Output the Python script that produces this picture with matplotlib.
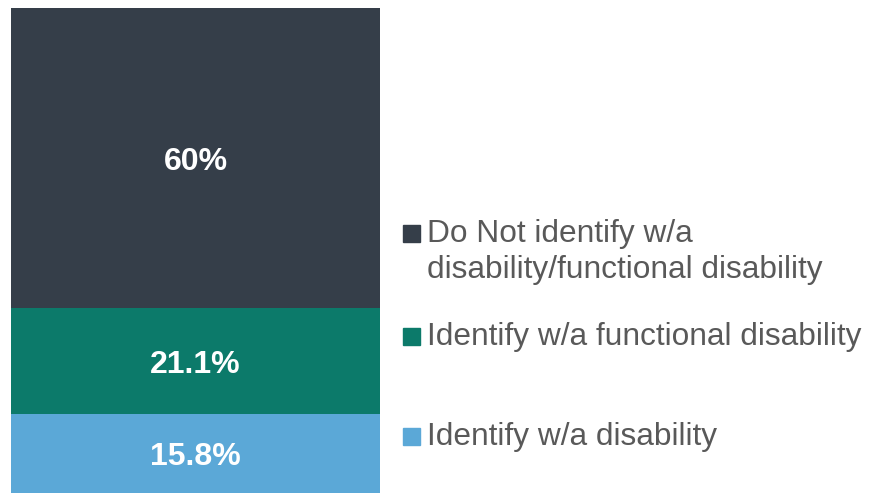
import matplotlib
matplotlib.use("Agg")
from matplotlib import pyplot as plt
from matplotlib.patches import Rectangle

plt.rcParams['font.family'] = ['Liberation Sans', 'DejaVu Sans']

# data, bottom to top
categories = ["Identify w/a disability",
              "Identify w/a functional disability",
              "Do Not identify w/a\ndisability/functional disability"]
values = [15.8, 21.1, 60.0]
labels = ["15.8%", "21.1%", "60%"]
colors = ["#5BA8D7", "#0C7A6A", "#353E49"]

W, H = 879, 493
fig = plt.figure(figsize=(W / 100, H / 100), dpi=100)
ax = fig.add_axes([11 / W, 0, (380 - 11) / W, 1 - 8 / H])

bottom = 0
for v, lab, c in zip(values, labels, colors):
    ax.bar(0, v, width=1, bottom=bottom, color=c)
    ax.text(0, bottom + v / 2, lab, ha="center", va="center_baseline",
            color="white", fontsize=23, fontweight="bold")
    bottom += v

ax.set_xlim(-0.5, 0.5)
ax.set_ylim(0, sum(values))
ax.axis("off")

# legend, drawn by hand so the marker sits on the first text line
baselines = [445, 345, 242]
line_gap = 36
for cat, c, yb in zip(categories, colors, baselines):
    fig.patches.append(Rectangle((403 / W, 1 - yb / H), 17 / W, 17 / H,
                                 transform=fig.transFigure, color=c))
    for i, line in enumerate(cat.split("\n")):
        fig.text(427 / W, 1 - (yb + i * line_gap) / H, line, ha="left",
                 va="baseline", color="#595959", fontsize=22.8)

fig.savefig("out.png", dpi=100)
